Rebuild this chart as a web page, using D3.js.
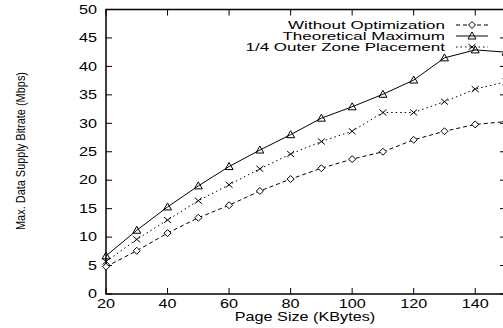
<!DOCTYPE html>
<html>
<head>
<meta charset="utf-8">
<script src="https://cdn.jsdelivr.net/npm/d3@7"></script>
<style>
  body { margin: 0; background: #fff; }
  svg { display: block; }
  text { font-family: "Liberation Sans", Arial, sans-serif; fill: #000; }
</style>
</head>
<body>
<div id="chart"></div>
<script>
// page sizes (KBytes)
var pageSizes = [20, 30, 40, 50, 60, 70, 80, 90, 100, 110, 120, 130, 140, 150];

// series (Mbps)
var withoutOpt = [4.8, 7.6, 10.7, 13.4, 15.6, 18.1, 20.2, 22.1, 23.7, 25.0, 27.1, 28.6, 29.8, 30.3];
var theoMax = [6.7, 11.2, 15.3, 19.0, 22.4, 25.3, 28.0, 30.9, 32.9, 35.1, 37.6, 41.5, 42.9, 42.5];
var outerZone = [5.7, 9.6, 13.0, 16.4, 19.2, 22.0, 24.6, 26.8, 28.6, 31.9, 31.9, 33.8, 36.0, 37.3];

var xTicks = [20, 40, 60, 80, 100, 120, 140];
var yTicks = [0, 5, 10, 15, 20, 25, 30, 35, 40, 45, 50];

var svgWidth = 503;
var svgHeight = 328;

var svg = d3.select("#chart")
  .append("svg")
  .attr("width", svgWidth)
  .attr("height", svgHeight);

// plot area in page pixels (right edge runs just off the picture)
var plotL = 106, plotR = 506, plotT = 9.5, plotB = 294;

var xScale = d3.scaleLinear().domain([20, 150]).range([plotL, plotR]);
var yScale = d3.scaleLinear().domain([0, 50]).range([plotB, plotT]);

var sx = 1.35; // the fonts in the original look stretched sideways

function label(x, y, str, anchor, size, stretch) {
  svg.append("text")
    .attr("transform", `translate(${x},${y}) scale(${stretch},1)`)
    .attr("text-anchor", anchor)
    .attr("dominant-baseline", "central")
    .style("font-size", size + "px")
    .text(str);
}

// ticks on all four sides, pointing inward
var tickLen = 6;
xTicks.forEach(function(t) {
  var x = xScale(t);
  svg.append("line").attr("x1", x).attr("x2", x).attr("y1", plotB).attr("y2", plotB - tickLen)
    .attr("stroke", "#000");
  svg.append("line").attr("x1", x).attr("x2", x).attr("y1", plotT).attr("y2", plotT + tickLen)
    .attr("stroke", "#000");
  label(x, 304, t, "middle", 12, sx);
});
yTicks.forEach(function(t) {
  var y = yScale(t);
  svg.append("line").attr("x1", plotL).attr("x2", plotL + tickLen).attr("y1", y).attr("y2", y)
    .attr("stroke", "#000");
  svg.append("line").attr("x1", plotR).attr("x2", plotR - tickLen).attr("y1", y).attr("y2", y)
    .attr("stroke", "#000");
  label(97, y, t, "end", 12, sx);
});

// frame
svg.append("rect")
  .attr("x", plotL).attr("y", plotT)
  .attr("width", plotR - plotL).attr("height", plotB - plotT)
  .attr("fill", "none")
  .attr("stroke", "#000")
  .attr("stroke-width", 1.5);

// axis titles
label(305, 317, "Page Size (KBytes)", "middle", 12, sx);
svg.append("text")
  .attr("transform", "translate(20,151) rotate(-90)")
  .attr("text-anchor", "middle")
  .attr("dominant-baseline", "central")
  .attr("textLength", 158)
  .attr("lengthAdjust", "spacingAndGlyphs")
  .style("font-size", "13px")
  .text("Max. Data Supply Bitrate (Mbps)");

// marker shapes
function diamond(g, x, y) {
  g.append("path").attr("d", `M${x},${y - 3.5}L${x + 3.5},${y}L${x},${y + 3.5}L${x - 3.5},${y}Z`)
    .attr("fill", "#fff").attr("stroke", "#000");
}
function triangle(g, x, y) {
  g.append("path").attr("d", `M${x},${y - 4}L${x + 4},${y + 3}L${x - 4},${y + 3}Z`)
    .attr("fill", "none").attr("stroke", "#000");
}
function cross(g, x, y) {
  g.append("path").attr("d", `M${x - 3.5},${y - 3}L${x + 3.5},${y + 3}M${x - 3.5},${y + 3}L${x + 3.5},${y - 3}`)
    .attr("fill", "none").attr("stroke", "#000");
}

var series = [
  { name: "Without Optimization", values: withoutOpt, dash: "4,3", marker: diamond },
  { name: "Theoretical Maximum", values: theoMax, dash: null, marker: triangle },
  { name: "1/4 Outer Zone Placement", values: outerZone, dash: "1.5,3", marker: cross }
];

var line = d3.line()
  .x(function(d, i) { return xScale(pageSizes[i]); })
  .y(function(d) { return yScale(d); });

var plot = svg.append("g");
series.forEach(function(s) {
  plot.append("path")
    .datum(s.values)
    .attr("d", line)
    .attr("fill", "none")
    .attr("stroke", "#000")
    .attr("stroke-width", 1)
    .attr("stroke-dasharray", s.dash);
  s.values.forEach(function(v, i) {
    s.marker(plot, xScale(pageSizes[i]), yScale(v));
  });
});

// legend
var legY = [25, 36, 47];
series.forEach(function(s, i) {
  label(445, legY[i], s.name, "end", 11.5, 1.48);
  svg.append("line")
    .attr("x1", 456).attr("x2", 488)
    .attr("y1", legY[i]).attr("y2", legY[i])
    .attr("stroke", "#000")
    .attr("stroke-dasharray", s.dash);
  s.marker(svg, 472, legY[i]);
});
</script>
</body>
</html>
